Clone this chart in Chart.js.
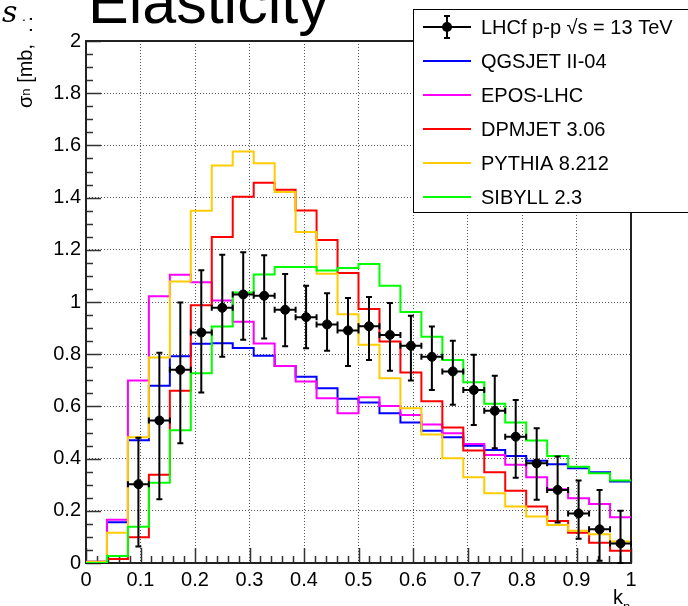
<!DOCTYPE html>
<html>
<head>
<meta charset="utf-8">
<title>Elasticity - LHCf p-p 13 TeV</title>
<script src="https://cdn.jsdelivr.net/npm/chart.js@4.4.0/dist/chart.umd.min.js"></script>
<style>
  html, body { margin: 0; padding: 0; background: #fff; }
  #elasticity { display: block; }
</style>
</head>
<body>
<canvas id="elasticity" width="688" height="606"></canvas>
<script>
// k_n histogram: 26 equal bins between 0 and 1
const N_BINS = 26;
const FIRST_DATA_BIN = 2; // LHCf points start at the 3rd bin

const xTickLabels = ['0', '0.1', '0.2', '0.3', '0.4', '0.5', '0.6', '0.7', '0.8', '0.9', '1'];
const yTickLabels = ['0', '0.2', '0.4', '0.6', '0.8', '1', '1.2', '1.4', '1.6', '1.8', '2'];

// model predictions, one value per bin
const qgsjet = [0.005, 0.156, 0.470, 0.679, 0.792, 0.840, 0.842, 0.824, 0.794, 0.755, 0.714, 0.670, 0.629,
                0.615, 0.574, 0.538, 0.507, 0.482, 0.449, 0.433, 0.410, 0.392, 0.378, 0.363, 0.348, 0.312];
const epos   = [0.005, 0.166, 0.699, 1.022, 1.104, 1.076, 1.006, 0.924, 0.841, 0.755, 0.695, 0.631, 0.574,
                0.635, 0.602, 0.567, 0.531, 0.497, 0.456, 0.414, 0.376, 0.329, 0.283, 0.248, 0.226, 0.175];
const dpmjet = [0.000, 0.015, 0.099, 0.338, 0.660, 0.988, 1.249, 1.403, 1.457, 1.430, 1.351, 1.238, 1.111,
                0.973, 0.849, 0.730, 0.620, 0.519, 0.431, 0.348, 0.277, 0.216, 0.161, 0.116, 0.078, 0.047];
const pythia = [0.005, 0.116, 0.482, 0.787, 1.079, 1.350, 1.523, 1.577, 1.532, 1.421, 1.268, 1.108, 0.953,
                0.836, 0.708, 0.593, 0.492, 0.401, 0.329, 0.267, 0.216, 0.178, 0.146, 0.124, 0.110, 0.082];
const sibyll = [0.000, 0.027, 0.139, 0.307, 0.509, 0.727, 0.906, 1.036, 1.105, 1.134, 1.134, 1.121, 1.130,
                1.146, 1.062, 0.962, 0.867, 0.778, 0.693, 0.610, 0.538, 0.469, 0.410, 0.369, 0.344, 0.316];

// LHCf data (bins 2..25) with lower / upper end of the error bar
const lhcf     = [0.302, 0.546, 0.740, 0.883, 0.978, 1.029, 1.024, 0.970, 0.942, 0.914, 0.891, 0.907,
                  0.874, 0.832, 0.790, 0.734, 0.663, 0.583, 0.484, 0.382, 0.280, 0.190, 0.129, 0.075];
const lhcfLow  = [0.063, 0.244, 0.459, 0.653, 0.790, 0.855, 0.860, 0.830, 0.823, 0.813, 0.755, 0.778,
                  0.737, 0.699, 0.663, 0.606, 0.529, 0.440, 0.327, 0.242, 0.155, 0.093, 0.009, 0.000];
const lhcfHigh = [0.480, 0.806, 0.998, 1.122, 1.181, 1.191, 1.179, 1.107, 1.062, 1.034, 1.015, 1.019,
                  0.996, 0.947, 0.906, 0.852, 0.798, 0.717, 0.625, 0.516, 0.408, 0.316, 0.280, 0.200];

const models = [
  { label: 'QGSJET II-04', values: qgsjet, color: '#0000ff' },
  { label: 'EPOS-LHC',     values: epos,   color: '#ff00ff' },
  { label: 'DPMJET 3.06',  values: dpmjet, color: '#ff0000' },
  { label: 'PYTHIA 8.212', values: pythia, color: '#ffcc00' },
  { label: 'SIBYLL 2.3',   values: sibyll, color: '#00ff00' }
];
const dataLabel = 'LHCf p-p \u221As = 13 TeV';

const FONT = "'Liberation Sans', Arial, Helvetica, sans-serif";

function binEdge(k) { return k / N_BINS; }

// step outline: one point on the left edge of every bin plus the closing edge
function histPoints(values) {
  var pts = values.map(function(v, k) { return { x: binEdge(k), y: v }; });
  pts.push({ x: binEdge(values.length), y: values[values.length - 1] });
  return pts;
}

var lhcfPoints = lhcf.map(function(v, i) {
  var k = FIRST_DATA_BIN + i;
  return { x: (binEdge(k) + binEdge(k + 1)) / 2, y: v };
});

var datasets = [{
  label: dataLabel,
  type: 'scatter',
  data: lhcfPoints,
  showLine: false,
  pointRadius: 4.5,
  pointBorderWidth: 1,
  pointBackgroundColor: '#000',
  pointBorderColor: '#000',
  order: 0
}];
models.forEach(function(m, i) {
  datasets.push({
    label: m.label,
    type: 'line',
    data: histPoints(m.values),
    stepped: 'before',
    borderColor: m.color,
    borderWidth: 2,
    pointRadius: 0,
    fill: false,
    order: models.length - i
  });
});

// ROOT style frame with inside ticks
var framePlugin = {
  id: 'frame',
  beforeDatasetsDraw: function(chart) {
    var ctx = chart.ctx, a = chart.chartArea;
    var xs = chart.scales.x, ys = chart.scales.y;
    ctx.save();
    ctx.strokeStyle = '#333';
    ctx.lineWidth = 1.5;
    ctx.beginPath();
    var v, px, py, len;
    for (var i = 0; i <= 50; i++) {
      v = i * 0.02;
      px = Math.round(xs.getPixelForValue(v)) + 0.5;
      len = (i % 5 === 0) ? 15 : 7;
      ctx.moveTo(px, a.bottom);
      ctx.lineTo(px, a.bottom - len);
    }
    for (var j = 0; j <= 40; j++) {
      v = j * 0.05;
      py = Math.round(ys.getPixelForValue(v)) + 0.5;
      len = (j % 4 === 0) ? 15 : 7;
      ctx.moveTo(a.left, py);
      ctx.lineTo(a.left + len, py);
    }
    ctx.stroke();
    ctx.strokeStyle = '#222';
    ctx.lineWidth = 2;
    ctx.strokeRect(a.left, a.top, a.right - a.left, a.bottom - a.top);
    ctx.restore();
  }
};

// vertical and horizontal error bars for the LHCf points
var errorBarPlugin = {
  id: 'errorBars',
  afterDatasetsDraw: function(chart) {
    var ctx = chart.ctx;
    var xs = chart.scales.x, ys = chart.scales.y;
    ctx.save();
    ctx.strokeStyle = '#000';
    ctx.lineWidth = 2;
    ctx.beginPath();
    lhcf.forEach(function(v, i) {
      var k = FIRST_DATA_BIN + i;
      var xc = xs.getPixelForValue(lhcfPoints[i].x);
      var x0 = xs.getPixelForValue(binEdge(k));
      var x1 = xs.getPixelForValue(binEdge(k + 1));
      var y = ys.getPixelForValue(v);
      var yLo = ys.getPixelForValue(lhcfLow[i]);
      var yHi = ys.getPixelForValue(lhcfHigh[i]);
      ctx.moveTo(xc, yLo); ctx.lineTo(xc, yHi);
      ctx.moveTo(xc - 3, yLo); ctx.lineTo(xc + 3, yLo);
      ctx.moveTo(xc - 3, yHi); ctx.lineTo(xc + 3, yHi);
      ctx.moveTo(x0, y); ctx.lineTo(x1, y);
      ctx.moveTo(x0, y - 3); ctx.lineTo(x0, y + 3);
      ctx.moveTo(x1, y - 3); ctx.lineTo(x1, y + 3);
    });
    ctx.stroke();
    ctx.restore();
  }
};

// legend box, titles and the cut-off slide text
var decorPlugin = {
  id: 'decor',
  afterDraw: function(chart) {
    var ctx = chart.ctx;
    ctx.save();

    // legend
    var lx = 413, ly = 9;
    ctx.fillStyle = '#fff';
    ctx.fillRect(lx, ly, 290, 204);
    ctx.strokeStyle = '#000';
    ctx.lineWidth = 1;
    ctx.strokeRect(lx + 0.5, ly + 0.5, 290, 203);
    ctx.font = '20px ' + FONT;
    ctx.textBaseline = 'middle';
    ctx.textAlign = 'left';
    var rows = [{ label: dataLabel, color: '#000' }].concat(models);
    rows.forEach(function(r, i) {
      var y = 27 + i * 34;
      ctx.strokeStyle = r.color;
      ctx.lineWidth = 2;
      ctx.beginPath();
      ctx.moveTo(423, y); ctx.lineTo(471, y);
      if (i === 0) {
        ctx.moveTo(447, y - 11); ctx.lineTo(447, y + 11);
        ctx.moveTo(444, y - 11); ctx.lineTo(450, y - 11);
        ctx.moveTo(444, y + 11); ctx.lineTo(450, y + 11);
      }
      ctx.stroke();
      if (i === 0) {
        ctx.fillStyle = '#000';
        ctx.beginPath();
        ctx.arc(447, y, 5, 0, Math.PI * 2);
        ctx.fill();
      }
      ctx.fillStyle = '#000';
      ctx.fillText(r.label, 481, y + 1);
    });

    // slide title, mostly cut off at the top
    ctx.textBaseline = 'alphabetic';
    ctx.fillStyle = '#000';
    ctx.font = '61px ' + FONT;
    ctx.fillText('Elasticity', 88, 23);
    ctx.font = 'italic 30px "DejaVu Serif", serif';
    ctx.fillText('s', 2, 22);
    ctx.font = '14px ' + FONT;
    ctx.fillText('.', 22, 21);

    // y axis title
    ctx.translate(32, 108);
    ctx.rotate(-Math.PI / 2);
    ctx.font = '20px ' + FONT;
    ctx.fillText('\u03C3', 0, 0);
    var w = ctx.measureText('\u03C3').width;
    ctx.font = '13px ' + FONT;
    ctx.fillText('n', w, -2);
    w += ctx.measureText('n').width;
    ctx.font = '20px ' + FONT;
    ctx.fillText(' [mb,  . .', w, 0);
    ctx.setTransform(1, 0, 0, 1, 0, 0);

    // x axis title
    ctx.font = '20px ' + FONT;
    ctx.fillText('k', 613, 604);
    ctx.font = '13px ' + FONT;
    ctx.fillText('n', 623, 611);
    ctx.restore();
  }
};

var chart = new Chart(document.getElementById('elasticity'), {
  data: { datasets: datasets },
  options: {
    responsive: false,
    animation: false,
    devicePixelRatio: 1,
    layout: { padding: { top: 41, right: 57, left: 0, bottom: 0 } },
    plugins: {
      legend: { display: false },
      tooltip: { enabled: false },
      title: { display: false }
    },
    scales: {
      x: {
        type: 'linear',
        min: 0,
        max: 1,
        afterFit: function(scale) { scale.height = 43; },
        ticks: {
          stepSize: 0.1,
          maxRotation: 0,
          autoSkip: false,
          padding: 5,
          color: '#000',
          font: { family: FONT, size: 20 },
          callback: function(value, index) { return xTickLabels[index]; }
        },
        grid: { color: '#555', lineWidth: 1, drawTicks: false },
        border: { display: false, dash: [1, 2] }
      },
      y: {
        type: 'linear',
        min: 0,
        max: 2,
        afterFit: function(scale) { scale.width = 86; },
        ticks: {
          stepSize: 0.2,
          autoSkip: false,
          padding: 5,
          color: '#000',
          font: { family: FONT, size: 20 },
          callback: function(value, index) { return yTickLabels[index]; }
        },
        grid: { color: '#555', lineWidth: 1, drawTicks: false },
        border: { display: false, dash: [1, 2] }
      }
    }
  },
  plugins: [framePlugin, errorBarPlugin, decorPlugin]
});
</script>
</body>
</html>
